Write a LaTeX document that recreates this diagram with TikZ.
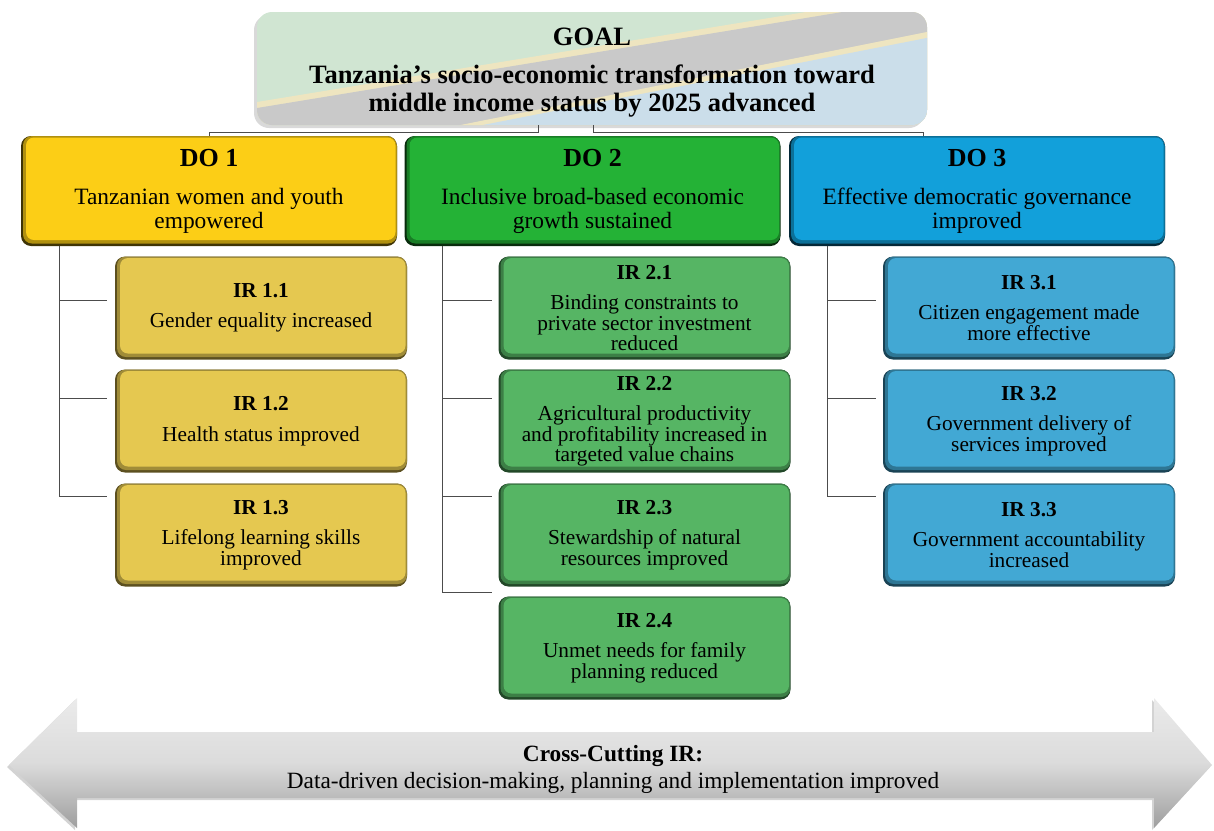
\documentclass[tikz,border=0pt]{standalone}
\usepackage{fontspec}
\setmainfont{Liberation Serif}
\usetikzlibrary{shadows}

\definecolor{doyel}{RGB}{252,206,22}
\definecolor{dogrn}{RGB}{36,178,54}
\definecolor{doblu}{RGB}{18,160,218}
\definecolor{iryel}{RGB}{229,200,80}
\definecolor{irgrn}{RGB}{86,181,100}
\definecolor{irblu}{RGB}{66,168,212}
\definecolor{flaggrn}{RGB}{208,229,210}
\definecolor{flagyel}{RGB}{238,229,192}
\definecolor{flaggry}{RGB}{201,201,201}
\definecolor{flagblu}{RGB}{203,222,234}

\begin{document}
\begin{tikzpicture}[x=1pt,y=-1pt,
  link/.style={draw=black!70,line width=0.8pt},
  bevel/.style 2 args={rounded corners=10pt,fill=#1!#2!black,inner sep=0pt,outer sep=0pt,align=center,
    path picture={
      \fill[#1!70!black,rounded corners=9pt] ([shift={(2pt,2.5pt)}]path picture bounding box.south west) rectangle (path picture bounding box.north east);
      \fill[#1,rounded corners=8pt] ([shift={(5pt,6pt)}]path picture bounding box.south west) rectangle ([shift={(-1.5pt,-1.5pt)}]path picture bounding box.north east);
    }},
  dobox/.style={bevel={#1}{25},minimum width=376pt,minimum height=110pt,font=\fontsize{23.4}{24}\selectfont},
  irbox/.style={bevel={#1}{40},minimum width=292pt,minimum height=103pt,font=\fontsize{21.3}{20.5}\selectfont}]
\useasboundingbox (0,0) rectangle (1214,830);

\fill[black!15,rounded corners=15pt] (254,15) rectangle (924,128);
\begin{scope}
  \clip[rounded corners=15pt] (257,12) rectangle (927,125);
  \fill[flaggrn] (240,0) rectangle (940,140);
  \fill[flagyel] (240,104.8) -- (940,-10) -- (940,140) -- (240,140) -- cycle;
  \fill[flaggry] (240,110.8) -- (940,-4) -- (940,140) -- (240,140) -- cycle;
  \fill[flagyel] (240,169) -- (940,29.4) -- (940,175) -- (240,175) -- cycle;
  \fill[flagblu] (240,172.6) -- (940,35.4) -- (940,175) -- (240,175) -- cycle;
\end{scope}
\node[align=center,minimum width=670pt,minimum height=105pt,font=\fontsize{26.5}{28}\selectfont\bfseries] (goal) at (592,72.5)
  {GOAL\\[10pt]Tanzania’s socio-economic transformation toward\\middle income status by 2025 advanced};

\node[dobox=doyel] (do1) at (209,191) {{\fontsize{26}{28}\selectfont\bfseries DO 1}\\[14pt]Tanzanian women and youth\\empowered};
\node[dobox=dogrn] (do2) at (592.5,191) {{\fontsize{26}{28}\selectfont\bfseries DO 2}\\[14pt]Inclusive broad-based economic\\growth sustained};
\node[dobox=doblu] (do3) at (977,191) {{\fontsize{26}{28}\selectfont\bfseries DO 3}\\[14pt]Effective democratic governance\\improved};

\node[irbox=iryel] (ir11) at (261,308) {{\bfseries IR 1.1}\\[10pt]Gender equality increased};
\node[irbox=iryel] (ir12) at (261,421) {{\bfseries IR 1.2}\\[10pt]Health status improved};
\node[irbox=iryel] (ir13) at (261,535) {{\bfseries IR 1.3}\\[10pt]Lifelong learning skills\\improved};

\node[irbox=irgrn] (ir21) at (644.5,308) {{\bfseries IR 2.1}\\[10pt]Binding constraints to\\private sector investment\\reduced};
\node[irbox=irgrn] (ir22) at (644.5,421) {{\bfseries IR 2.2}\\[10pt]Agricultural productivity\\and profitability increased in\\targeted value chains};
\node[irbox=irgrn] (ir23) at (644.5,535) {{\bfseries IR 2.3}\\[10pt]Stewardship of natural\\resources improved};
\node[irbox=irgrn] (ir24) at (644.5,648) {{\bfseries IR 2.4}\\[10pt]Unmet needs for family\\planning reduced};

\node[irbox=irblu] (ir31) at (1029,308) {{\bfseries IR 3.1}\\[10pt]Citizen engagement made\\more effective};
\node[irbox=irblu] (ir32) at (1029,421) {{\bfseries IR 3.2}\\[10pt]Government delivery of\\services improved};
\node[irbox=irblu] (ir33) at (1029,535) {{\bfseries IR 3.3}\\[10pt]Government accountability\\increased};

\draw[link] (goal.south -| 538,0) -- ++(0,7) -| (do1.north);
\draw[link] (goal.south -| 593,0) -- ++(0,7) -| (do3.north -| 923,0);

\draw[link,shorten >=8pt] (do1.south -| 59,0) |- (ir13.west |- 0,496);
\draw[link,shorten >=8pt] (59,300) -- (ir11.west |- 0,300);
\draw[link,shorten >=8pt] (59,398) -- (ir12.west |- 0,398);

\draw[link,shorten >=7pt] (do2.south -| 442,0) |- (ir24.west |- 0,592);
\draw[link,shorten >=7pt] (442,300) -- (ir21.west |- 0,300);
\draw[link,shorten >=7pt] (442,398) -- (ir22.west |- 0,398);
\draw[link,shorten >=7pt] (442,496) -- (ir23.west |- 0,496);

\draw[link,shorten >=7pt] (do3.south -| 827,0) |- (ir33.west |- 0,496);
\draw[link,shorten >=7pt] (827,300) -- (ir31.west |- 0,300);
\draw[link,shorten >=7pt] (827,398) -- (ir32.west |- 0,398);

\path[top color=black!8,bottom color=black!38,middle color=black!14,drop shadow={shadow xshift=-2pt,shadow yshift=-2pt,opacity=.35}]
  (9,765) -- (77,698) -- (77,732) -- (1154,732) -- (1154,698) -- (1212,765) -- (1154,828) -- (1154,798) -- (77,798) -- (77,828) -- cycle;
\node[align=center,font=\fontsize{23.3}{27}\selectfont] (cross) at (613,769)
  {\textbf{Cross-Cutting IR:}\\Data-driven decision-making, planning and implementation improved};
\end{tikzpicture}
\end{document}
